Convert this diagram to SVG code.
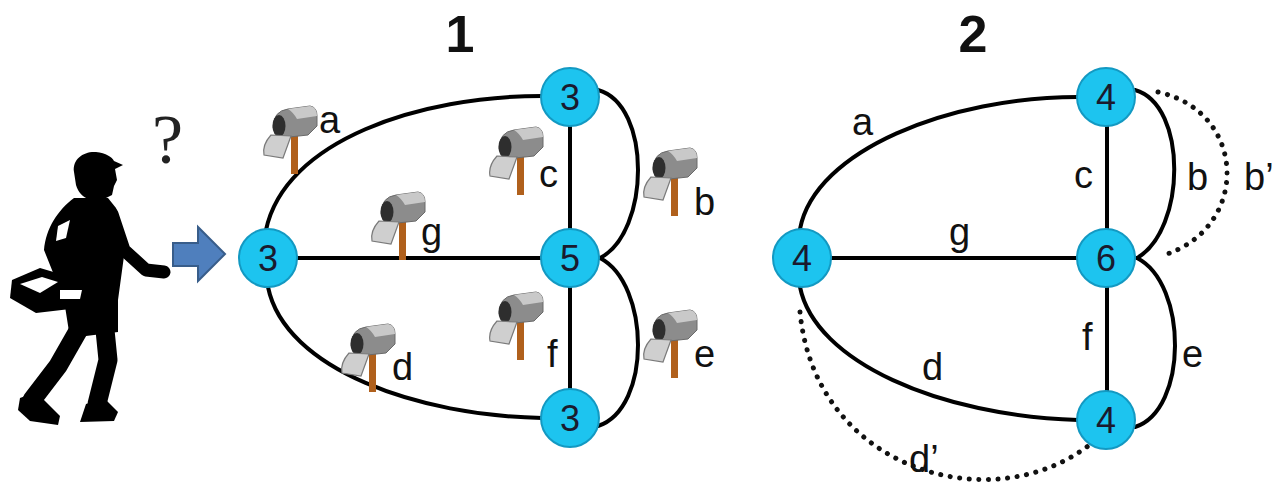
<svg xmlns="http://www.w3.org/2000/svg" width="1275" height="495" viewBox="0 0 1275 495">
  <style>
    .edge { fill: none; stroke: #000; stroke-width: 4; stroke-linecap: round; }
    .dot { fill: none; stroke: #111; stroke-width: 5; stroke-linecap: round; stroke-dasharray: 0.1 9.5; }
    .node circle { fill: #1dc4ef; stroke: #1399c2; stroke-width: 2; }
    .node text { font-family: "Liberation Sans", Arial, sans-serif; font-size: 36px; fill: #1a1a2e; text-anchor: middle; }
    .lbl { font-family: "Liberation Sans", Arial, sans-serif; font-size: 38px; fill: #111; }
    .title { font-family: "Liberation Sans", Arial, sans-serif; font-size: 52px; font-weight: bold; fill: #111; text-anchor: middle; }
  </style>
  <defs>
    <!-- roadside mailbox: grey box with open door on a wooden post -->
    <g id="mailbox">
      <rect x="28" y="30" width="7" height="40" fill="#b0601c"/>
      <path d="M10,24 Q10,7 25,5 L47,2 Q54,3 54,12 L54,22 L45,31 L17,34 Z" fill="#8c8c8c" stroke="#6a6a6a" stroke-width="1"/>
      <path d="M25,5 L47,2 Q54,3 54,12 L34,15 Q30,8 25,5 Z" fill="#c9c9c9"/>
      <ellipse cx="16" cy="22" rx="6.5" ry="11" fill="#2e2e2e"/>
      <path d="M8,31 L28,32 L20,54 L1,51 Q-1,41 8,31 Z" fill="#cfcfcf" stroke="#7a7a7a" stroke-width="1.2"/>
    </g>
  </defs>

  <rect width="1275" height="495" fill="#fff"/>

  <!-- walking postman silhouette -->
  <g id="postman" fill="#000" stroke="#000">
    <path stroke="none" d="M74,172 C72,159 84,151 96,152 C106,153 112,157 114,161 L123,165 L115,169 L117,180 L114,186 L112,195 L104,199 L90,199 C83,198 78,192 76,185 Z"/>
    <path stroke="none" d="M74,198 L108,198 L116,208 C122,222 124,240 124,256 L118,300 L118,332 L70,338 L64,300 L44,250 C46,228 58,210 74,198 Z"/>
    <path fill="none" stroke-width="13" stroke-linecap="round" stroke-linejoin="round" d="M112,214 L124,250 L146,270 L164,272"/>
    <path stroke="none" d="M12,280 L40,268 L94,284 L96,306 L36,313 L10,298 Z"/>
    <path fill="none" stroke-width="19" stroke-linejoin="round" stroke-linecap="round" d="M104,320 L108,360 L97,404"/>
    <path fill="none" stroke-width="19" stroke-linejoin="round" stroke-linecap="round" d="M82,324 L58,366 L32,400"/>
    <path stroke="none" d="M86,404 L104,398 L118,412 L114,421 L80,422 Z"/>
    <path stroke="none" d="M20,398 L36,392 L60,416 L58,425 L30,421 L18,410 Z"/>
    <path stroke="none" fill="#fff" d="M58,226 L70,220 L66,238 L56,241 Z"/>
    <path stroke="none" fill="#fff" d="M20,284 L42,277 L58,282 L40,293 Z"/>
    <path stroke="none" fill="#fff" d="M60,290 L82,290 L80,299 L60,299 Z"/>
  </g>
  <text x="152" y="163" font-family="Liberation Serif, serif" font-size="70" fill="#222">?</text>

  <!-- block arrow toward the start node -->
  <path id="start-arrow" d="M173,243 L198,243 L198,227 L225,254 L198,281 L198,266 L173,266 Z" fill="#4f7fbd" stroke="#385d8a" stroke-width="2"/>

  <text class="title" x="460" y="52">1</text>
  <text class="title" x="973" y="52">2</text>

  <!-- connectors -->
  <g id="connectors">
    <!-- graph 1 -->
    <path class="edge" d="M266,230 C285,140 420,96 542,96"/>
    <path class="edge" d="M297,258 L541,258"/>
    <path class="edge" d="M570,127 L570,229"/>
    <path class="edge" d="M570,287 L570,389"/>
    <path class="edge" d="M598,90 C652,105 650,232 600,258"/>
    <path class="edge" d="M600,258 C650,284 652,408 598,426"/>
    <path class="edge" d="M268,287 C285,370 420,416 542,418"/>
    <!-- graph 2 -->
    <path class="edge" d="M800,229 C815,150 950,97 1078,97"/>
    <path class="edge" d="M831,258 L1078,258"/>
    <path class="edge" d="M1107,126 L1107,229"/>
    <path class="edge" d="M1107,287 L1107,391"/>
    <path class="edge" d="M1135,90 C1188,105 1186,230 1137,258"/>
    <path class="edge" d="M1137,258 C1188,284 1188,410 1135,427"/>
    <path class="edge" d="M800,287 C815,362 940,416 1078,420"/>
    <path class="dot" d="M1158,92 C1248,112 1250,228 1164,255"/>
    <path class="dot" d="M800,312 C815,470 990,520 1088,446"/>
  </g>

  <!-- mailboxes on graph 1 edges -->
  <use href="#mailbox" x="263" y="104"/>
  <use href="#mailbox" x="489" y="125"/>
  <use href="#mailbox" x="371" y="190"/>
  <use href="#mailbox" x="643" y="146"/>
  <use href="#mailbox" x="643" y="308"/>
  <use href="#mailbox" x="341" y="322"/>
  <use href="#mailbox" x="489" y="290"/>

  <!-- edge labels graph 1 -->
  <text class="lbl" x="319" y="133">a</text>
  <text class="lbl" x="539" y="187">c</text>
  <text class="lbl" x="421" y="245">g</text>
  <text class="lbl" x="694" y="215">b</text>
  <text class="lbl" x="694" y="367">e</text>
  <text class="lbl" x="392" y="380">d</text>
  <text class="lbl" x="547" y="367">f</text>

  <!-- edge labels graph 2 -->
  <text class="lbl" x="852" y="135">a</text>
  <text class="lbl" x="1074" y="188">c</text>
  <text class="lbl" x="1187" y="190">b</text>
  <text class="lbl" x="1244" y="190">b’</text>
  <text class="lbl" x="949" y="245">g</text>
  <text class="lbl" x="1082" y="350">f</text>
  <text class="lbl" x="1182" y="367">e</text>
  <text class="lbl" x="922" y="380">d</text>
  <text class="lbl" x="909" y="472">d’</text>

  <!-- graph 1 nodes -->
  <g id="n1-left" class="node"><circle cx="268" cy="258" r="29"/><text x="268" y="271">3</text></g>
  <g id="n1-top" class="node"><circle cx="570" cy="97" r="29"/><text x="570" y="110">3</text></g>
  <g id="n1-mid" class="node"><circle cx="570" cy="258" r="29"/><text x="570" y="271">5</text></g>
  <g id="n1-bot" class="node"><circle cx="570" cy="418" r="29"/><text x="570" y="431">3</text></g>

  <!-- graph 2 nodes -->
  <g id="n2-left" class="node"><circle cx="802" cy="258" r="29"/><text x="802" y="271">4</text></g>
  <g id="n2-top" class="node"><circle cx="1106" cy="97" r="29"/><text x="1106" y="110">4</text></g>
  <g id="n2-mid" class="node"><circle cx="1106" cy="258" r="29"/><text x="1106" y="271">6</text></g>
  <g id="n2-bot" class="node"><circle cx="1106" cy="420" r="29"/><text x="1106" y="433">4</text></g>
</svg>
